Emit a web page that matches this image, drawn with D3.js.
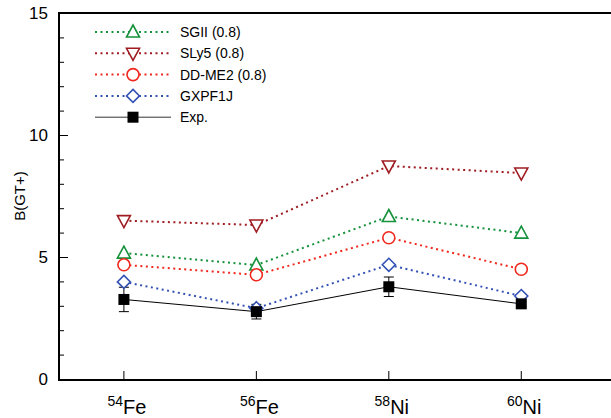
<!DOCTYPE html>
<html>
<head>
<meta charset="utf-8">
<style>
  body { margin: 0; background: #fff; }
  text { font-family: "Liberation Sans", Arial, sans-serif; }
</style>
</head>
<body>
<script src="https://cdn.jsdelivr.net/npm/d3@7"></script>
<script>
// nuclei on the x axis
var nuclei = [{mass: "54", sym: "Fe"}, {mass: "56", sym: "Fe"}, {mass: "58", sym: "Ni"}, {mass: "60", sym: "Ni"}];

// B(GT+) values per model
var sgii   = [5.16, 4.67, 6.66, 5.98];
var sly5   = [6.49, 6.31, 8.73, 8.44];
var ddme2  = [4.68, 4.27, 5.79, 4.50];
var gxpf1j = [3.98, 2.90, 4.68, 3.40];
var expVal = [3.26, 2.76, 3.78, 3.08];
var expErr = [0.50, 0.30, 0.40, 0.10];

var yTicks = [0, 5, 10, 15];

var series = [
  {name: "SGII (0.8)",   vals: sgii,   color: "#16923c", shape: "up"},
  {name: "SLy5 (0.8)",   vals: sly5,   color: "#9e1c22", shape: "down"},
  {name: "DD-ME2 (0.8)", vals: ddme2,  color: "#f0281e", shape: "circle"},
  {name: "GXPF1J",       vals: gxpf1j, color: "#3452b4", shape: "diamond"},
  {name: "Exp.",         vals: expVal, color: "#000000", shape: "square", solid: true}
];

var W = 611, H = 418;
var svg = d3.select("body").append("svg").attr("width", W).attr("height", H);

var x = d3.scaleLinear().domain([-0.49, 3.7]).range([59, 614]);
var y = d3.scaleLinear().domain([0, 15]).range([379, 13]);

// marker drawing
function marker(g, shape, color, size) {
  var s = size || 1;
  if (shape === "up") {
    g.append("path").attr("d", "M0,-7L6.5,5L-6.5,5Z").attr("transform", "scale(" + s + ")")
      .attr("fill", "#fff").attr("stroke", color).attr("stroke-width", 1.6);
  } else if (shape === "down") {
    g.append("path").attr("d", "M0,7L6.5,-5L-6.5,-5Z").attr("transform", "scale(" + s + ")")
      .attr("fill", "#fff").attr("stroke", color).attr("stroke-width", 1.6);
  } else if (shape === "circle") {
    g.append("circle").attr("r", 6 * s)
      .attr("fill", "#fff").attr("stroke", color).attr("stroke-width", 1.6);
  } else if (shape === "diamond") {
    g.append("path").attr("d", "M0,-6.5L6.5,0L0,6.5L-6.5,0Z").attr("transform", "scale(" + s + ")")
      .attr("fill", "#fff").attr("stroke", color).attr("stroke-width", 1.6);
  } else {
    g.append("rect").attr("x", -5.5 * s).attr("y", -5.5 * s).attr("width", 11 * s).attr("height", 11 * s)
      .attr("fill", color);
  }
}

// axes frame
var yAxis = d3.axisRight(y).tickValues(d3.range(0, 16, 1)).tickSize(0).tickFormat("");
var gy = svg.append("g").attr("transform", "translate(59,0)").call(yAxis);
gy.select(".domain").remove();
gy.selectAll(".tick line").attr("x2", function(d) { return d % 5 === 0 ? 9 : 5; })
  .attr("stroke", "#000").attr("stroke-width", 1);

svg.append("line").attr("x1", 59).attr("x2", 59).attr("y1", 12).attr("y2", 380)
  .attr("stroke", "#000").attr("stroke-width", 2);
svg.append("line").attr("x1", 58).attr("x2", W).attr("y1", 13).attr("y2", 13)
  .attr("stroke", "#000").attr("stroke-width", 2);
svg.append("line").attr("x1", 58).attr("x2", W).attr("y1", 380).attr("y2", 380)
  .attr("stroke", "#000").attr("stroke-width", 2);

svg.selectAll(".ylab").data(yTicks).enter().append("text")
  .attr("x", 48).attr("y", function(d) { return y(d) + 6; })
  .attr("text-anchor", "end").attr("font-size", 17).text(function(d) { return d; });

svg.append("text").attr("transform", "translate(25,196) rotate(-90)")
  .attr("text-anchor", "middle").attr("font-size", 15).text("B(GT+)");

// x ticks and labels
svg.selectAll(".xt").data(nuclei).enter().append("line")
  .attr("x1", function(d, i) { return x(i); }).attr("x2", function(d, i) { return x(i); })
  .attr("y1", 371).attr("y2", 380).attr("stroke", "#000").attr("stroke-width", 1);

var xl = svg.selectAll(".xl").data(nuclei).enter().append("text")
  .attr("x", function(d, i) { return x(i) + 3; }).attr("y", 414)
  .attr("text-anchor", "middle");
xl.append("tspan").attr("font-size", 14).attr("dy", -8).text(function(d) { return d.mass; });
xl.append("tspan").attr("font-size", 20).attr("dy", 8).text(function(d) { return d.sym; });

// lines
var line = d3.line().x(function(d, i) { return x(i); }).y(function(d) { return y(d); });
series.forEach(function(s) {
  svg.append("path").datum(s.vals).attr("d", line).attr("fill", "none")
    .attr("stroke", s.color)
    .attr("stroke-width", s.solid ? 1 : 2)
    .attr("stroke-dasharray", s.solid ? null : "2,3.5");
});

// error bars
expVal.forEach(function(v, i) {
  var g = svg.append("g").attr("stroke", "#000").attr("stroke-width", 1);
  var cx = x(i), y1 = y(v - expErr[i]), y2 = y(v + expErr[i]);
  g.append("line").attr("x1", cx).attr("x2", cx).attr("y1", y1).attr("y2", y2);
  g.append("line").attr("x1", cx - 5).attr("x2", cx + 5).attr("y1", y1).attr("y2", y1);
  g.append("line").attr("x1", cx - 5).attr("x2", cx + 5).attr("y1", y2).attr("y2", y2);
});

// markers
series.forEach(function(s) {
  s.vals.forEach(function(v, i) {
    var g = svg.append("g").attr("transform", "translate(" + x(i) + "," + y(v) + ")");
    marker(g, s.shape, s.color);
  });
});

// legend
series.forEach(function(s, i) {
  var ly = 32 + i * 21.3;
  svg.append("line").attr("x1", 95).attr("x2", 171).attr("y1", ly).attr("y2", ly)
    .attr("stroke", s.solid ? "#333" : s.color)
    .attr("stroke-width", s.solid ? 1 : 2)
    .attr("stroke-dasharray", s.solid ? null : "2,3.5");
  var g = svg.append("g").attr("transform", "translate(133," + ly + ")");
  marker(g, s.shape, s.color);
  svg.append("text").attr("x", 180).attr("y", ly + 5).attr("font-size", 14).text(s.name);
});
</script>
</body>
</html>
